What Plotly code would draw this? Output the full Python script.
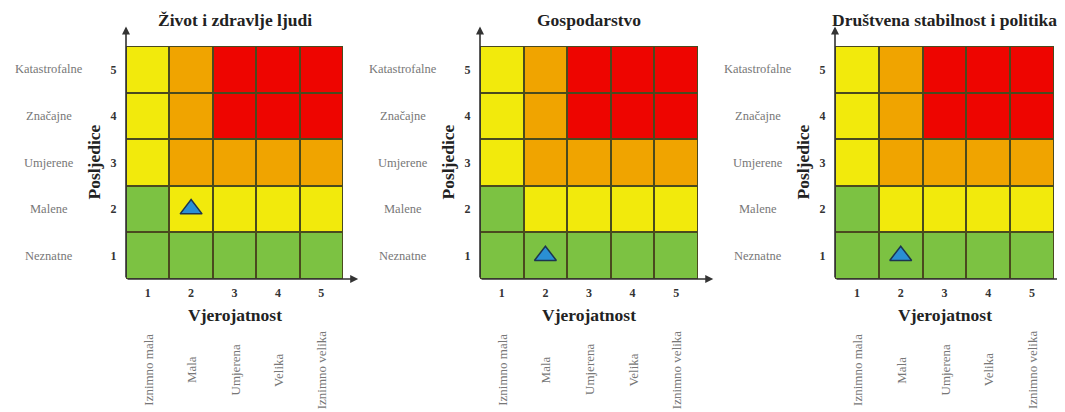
import plotly.graph_objects as go

# ---- data ----
titles = ["Život i zdravlje ljudi", "Gospodarstvo", "Društvena stabilnost i politika"]
likelihood_ticks = [1, 2, 3, 4, 5]
likelihood_labels = ["Iznimno mala", "Mala", "Umjerena", "Velika", "Iznimno velika"]
impact_ticks = [1, 2, 3, 4, 5]
impact_labels = ["Neznatne", "Malene", "Umjerene", "Značajne", "Katastrofalne"]
# risk level per cell, rows = impact 1..5, cols = likelihood 1..5
# 0 = green, 1 = yellow, 2 = orange, 3 = red
risk_matrix = [
    [0, 0, 0, 0, 0],
    [0, 1, 1, 1, 1],
    [1, 2, 2, 2, 2],
    [1, 2, 3, 3, 3],
    [1, 2, 3, 3, 3],
]
marker_likelihood = [2, 2, 2]
marker_impact = [2, 1, 1]
x_title = "Vjerojatnost"
y_title = "Posljedice"

# ---- style ----
GREEN, YELLOW, ORANGE, RED = "#7cc242", "#f2ea0c", "#f0a400", "#ee0500"
BORDER = "#4a4a1e"
colorscale = [[0, GREEN], [0.25, GREEN], [0.25, YELLOW], [0.5, YELLOW],
              [0.5, ORANGE], [0.75, ORANGE], [0.75, RED], [1, RED]]
OFF = 8  # default page body margin
W, H = 1065 - OFF, 412 - OFF
panels_px = [(126 - OFF, 343 - OFF), (480 - OFF, 698 - OFF), (835 - OFF, 1054 - OFF)]
top_px, bot_px = 46 - OFF, 279 - OFF
SERIF = "Liberation Serif"

fig = go.Figure()
layout = dict(width=W, height=H, margin=dict(l=0, r=0, t=0, b=0),
              paper_bgcolor="white", plot_bgcolor=BORDER, showlegend=False)
annotations = []
for i, (x0, x1) in enumerate(panels_px):
    n = "" if i == 0 else str(i + 1)
    xa, ya = "x" + n, "y" + n
    fig.add_trace(go.Heatmap(z=risk_matrix, x=likelihood_ticks, y=impact_ticks,
                             colorscale=colorscale, zmin=-0.5, zmax=3.5,
                             showscale=False, xgap=2, ygap=2, hoverinfo="skip",
                             xaxis=xa, yaxis=ya))
    fig.add_trace(go.Scatter(x=[marker_likelihood[i]], y=[marker_impact[i]], mode="markers",
                             marker=dict(symbol="triangle-up", size=19, color="#2a8fd4",
                                         line=dict(color="#1c3550", width=1.5)),
                             xaxis=xa, yaxis=ya, hoverinfo="skip"))
    layout["xaxis" + n] = dict(domain=[x0 / W, x1 / W], range=[0.5, 5.5], anchor=ya,
                               tickvals=likelihood_ticks,
                               ticktext=["<b>%d</b>" % v for v in likelihood_ticks],
                               showgrid=False, zeroline=False, showline=False,
                               ticks="outside", ticklen=3, tickcolor="rgba(0,0,0,0)",
                               tickfont=dict(family=SERIF, size=12, color="#333"))
    layout["yaxis" + n] = dict(domain=[1 - bot_px / H, 1 - top_px / H], range=[0.5, 5.5], anchor=xa,
                               tickvals=impact_ticks,
                               ticktext=["<b>%d</b>" % v for v in impact_ticks],
                               showgrid=False, zeroline=False, showline=False,
                               ticks="outside", ticklen=6, tickcolor="rgba(0,0,0,0)",
                               tickfont=dict(family=SERIF, size=12, color="#333"))
    pw, ph = x1 - x0, bot_px - top_px
    common = dict(showarrow=False, xanchor="center", yanchor="middle")
    # title
    annotations.append(dict(text="<b>%s</b>" % titles[i], xref=xa + " domain", yref=ya + " domain",
                            x=0.5, y=(bot_px - (20 - OFF)) / ph,
                            font=dict(family=SERIF, size=17.5, color="#222"), **common))
    # axis titles
    annotations.append(dict(text="<b>%s</b>" % x_title, xref=xa + " domain", yref=ya + " domain",
                            x=0.5, y=(bot_px - (315 - OFF)) / ph,
                            font=dict(family=SERIF, size=17.5, color="#222"), **common))
    annotations.append(dict(text="<b>%s</b>" % y_title, xref=xa + " domain", yref=ya + " domain",
                            x=-33 / pw, y=0.5, textangle=-90,
                            font=dict(family=SERIF, size=17.5, color="#222"), **common))
    # category labels
    for v, lab in zip(impact_ticks, impact_labels):
        annotations.append(dict(text=lab, xref=xa + " domain", yref=ya,
                                x=-77 / pw, y=v,
                                font=dict(family=SERIF, size=12.5, color="#777"), **common))
    for v, lab in zip(likelihood_ticks, likelihood_labels):
        annotations.append(dict(text=lab, xref=xa, yref=ya + " domain", x=v,
                                y=(bot_px - (370 - OFF)) / ph, textangle=-90,
                                font=dict(family=SERIF, size=13, color="#777"), **common))
    # axis arrows
    annotations.append(dict(text="", xref=xa, yref=ya, axref=xa, ayref=ya,
                            x=0.5, y=5.92, ax=0.5, ay=0.5, showarrow=True,
                            arrowhead=2, arrowsize=1, arrowwidth=1.6, arrowcolor="#333"))
    annotations.append(dict(text="", xref=xa, yref=ya, axref=xa, ayref=ya,
                            x=5.85, y=0.5, ax=0.5, ay=0.5, showarrow=True,
                            arrowhead=2, arrowsize=1, arrowwidth=1.6, arrowcolor="#333"))

layout["annotations"] = annotations
fig.update_layout(**layout)
fig.write_html("out.html")
